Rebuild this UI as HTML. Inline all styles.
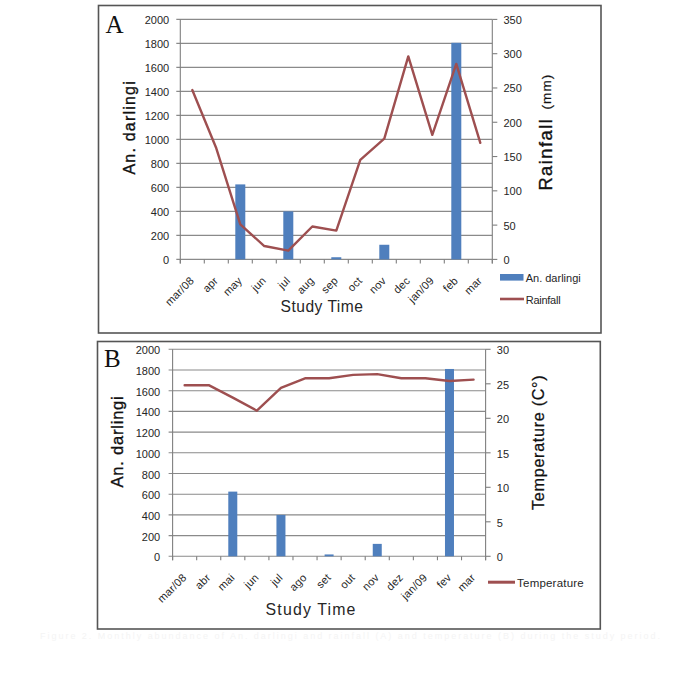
<!DOCTYPE html>
<html><head><meta charset="utf-8"><title>Chart</title>
<style>
html,body{margin:0;padding:0;background:#fff;}
body{width:685px;height:688px;overflow:hidden;}
svg{display:block;font-family:"Liberation Sans", sans-serif;}
</style></head><body>
<svg width="685" height="688" viewBox="0 0 685 688">
<rect x="0" y="0" width="685" height="688" fill="#fff"/>
<rect x="98.5" y="5.5" width="502.5" height="327.5" fill="#fff" stroke="#555555" stroke-width="1.6"/>
<line x1="176.3" y1="19.4" x2="492.3" y2="19.4" stroke="#8a8a8a" stroke-width="1.1"/>
<line x1="176.3" y1="43.4" x2="492.3" y2="43.4" stroke="#8a8a8a" stroke-width="1.1"/>
<line x1="176.3" y1="67.4" x2="492.3" y2="67.4" stroke="#8a8a8a" stroke-width="1.1"/>
<line x1="176.3" y1="91.4" x2="492.3" y2="91.4" stroke="#8a8a8a" stroke-width="1.1"/>
<line x1="176.3" y1="115.4" x2="492.3" y2="115.4" stroke="#8a8a8a" stroke-width="1.1"/>
<line x1="176.3" y1="139.4" x2="492.3" y2="139.4" stroke="#8a8a8a" stroke-width="1.1"/>
<line x1="176.3" y1="163.4" x2="492.3" y2="163.4" stroke="#8a8a8a" stroke-width="1.1"/>
<line x1="176.3" y1="187.4" x2="492.3" y2="187.4" stroke="#8a8a8a" stroke-width="1.1"/>
<line x1="176.3" y1="211.4" x2="492.3" y2="211.4" stroke="#8a8a8a" stroke-width="1.1"/>
<line x1="176.3" y1="235.4" x2="492.3" y2="235.4" stroke="#8a8a8a" stroke-width="1.1"/>
<line x1="176.3" y1="259.4" x2="492.3" y2="259.4" stroke="#8a8a8a" stroke-width="1.1"/>
<line x1="180.3" y1="19.4" x2="180.3" y2="263.4" stroke="#7f7f7f" stroke-width="1.1"/>
<line x1="492.3" y1="19.4" x2="492.3" y2="263.4" stroke="#7f7f7f" stroke-width="1.1"/>
<line x1="492.3" y1="19.4" x2="497.3" y2="19.4" stroke="#7f7f7f" stroke-width="1.1"/>
<line x1="492.3" y1="53.69" x2="497.3" y2="53.69" stroke="#7f7f7f" stroke-width="1.1"/>
<line x1="492.3" y1="87.97" x2="497.3" y2="87.97" stroke="#7f7f7f" stroke-width="1.1"/>
<line x1="492.3" y1="122.26" x2="497.3" y2="122.26" stroke="#7f7f7f" stroke-width="1.1"/>
<line x1="492.3" y1="156.54" x2="497.3" y2="156.54" stroke="#7f7f7f" stroke-width="1.1"/>
<line x1="492.3" y1="190.83" x2="497.3" y2="190.83" stroke="#7f7f7f" stroke-width="1.1"/>
<line x1="492.3" y1="225.11" x2="497.3" y2="225.11" stroke="#7f7f7f" stroke-width="1.1"/>
<line x1="492.3" y1="259.4" x2="497.3" y2="259.4" stroke="#7f7f7f" stroke-width="1.1"/>
<line x1="180.3" y1="259.4" x2="180.3" y2="263.4" stroke="#7f7f7f" stroke-width="1.1"/>
<line x1="204.3" y1="259.4" x2="204.3" y2="263.4" stroke="#7f7f7f" stroke-width="1.1"/>
<line x1="228.3" y1="259.4" x2="228.3" y2="263.4" stroke="#7f7f7f" stroke-width="1.1"/>
<line x1="252.3" y1="259.4" x2="252.3" y2="263.4" stroke="#7f7f7f" stroke-width="1.1"/>
<line x1="276.3" y1="259.4" x2="276.3" y2="263.4" stroke="#7f7f7f" stroke-width="1.1"/>
<line x1="300.3" y1="259.4" x2="300.3" y2="263.4" stroke="#7f7f7f" stroke-width="1.1"/>
<line x1="324.3" y1="259.4" x2="324.3" y2="263.4" stroke="#7f7f7f" stroke-width="1.1"/>
<line x1="348.3" y1="259.4" x2="348.3" y2="263.4" stroke="#7f7f7f" stroke-width="1.1"/>
<line x1="372.3" y1="259.4" x2="372.3" y2="263.4" stroke="#7f7f7f" stroke-width="1.1"/>
<line x1="396.3" y1="259.4" x2="396.3" y2="263.4" stroke="#7f7f7f" stroke-width="1.1"/>
<line x1="420.3" y1="259.4" x2="420.3" y2="263.4" stroke="#7f7f7f" stroke-width="1.1"/>
<line x1="444.3" y1="259.4" x2="444.3" y2="263.4" stroke="#7f7f7f" stroke-width="1.1"/>
<line x1="468.3" y1="259.4" x2="468.3" y2="263.4" stroke="#7f7f7f" stroke-width="1.1"/>
<line x1="492.3" y1="259.4" x2="492.3" y2="263.4" stroke="#7f7f7f" stroke-width="1.1"/>
<rect x="235.3" y="184.4" width="10" height="75" fill="#4f7fbd"/>
<rect x="283.3" y="211.4" width="10" height="48" fill="#4f7fbd"/>
<rect x="331.3" y="257.24" width="10" height="2.16" fill="#4f7fbd"/>
<rect x="379.3" y="244.76" width="10" height="14.64" fill="#4f7fbd"/>
<rect x="451.3" y="42.8" width="10" height="216.6" fill="#4f7fbd"/>
<polyline points="192.3,90.03 216.3,148.31 240.3,224.43 264.3,246.03 288.3,250.69 312.3,226.49 336.3,230.6 360.3,159.97 384.3,138.71 408.3,56.43 432.3,134.87 456.3,63.97 480.3,142.83" fill="none" stroke="#9e4f50" stroke-width="2.4" stroke-linejoin="round" stroke-linecap="round"/>
<text x="169.2" y="263.9" text-anchor="end" font-size="11" fill="#262626">0</text>
<text x="169.2" y="239.9" text-anchor="end" font-size="11" fill="#262626">200</text>
<text x="169.2" y="215.9" text-anchor="end" font-size="11" fill="#262626">400</text>
<text x="169.2" y="191.9" text-anchor="end" font-size="11" fill="#262626">600</text>
<text x="169.2" y="167.9" text-anchor="end" font-size="11" fill="#262626">800</text>
<text x="169.2" y="143.9" text-anchor="end" font-size="11" fill="#262626">1000</text>
<text x="169.2" y="119.9" text-anchor="end" font-size="11" fill="#262626">1200</text>
<text x="169.2" y="95.9" text-anchor="end" font-size="11" fill="#262626">1400</text>
<text x="169.2" y="71.9" text-anchor="end" font-size="11" fill="#262626">1600</text>
<text x="169.2" y="47.9" text-anchor="end" font-size="11" fill="#262626">1800</text>
<text x="169.2" y="23.9" text-anchor="end" font-size="11" fill="#262626">2000</text>
<text x="503.5" y="263.9" font-size="11" fill="#262626">0</text>
<text x="503.5" y="229.61" font-size="11" fill="#262626">50</text>
<text x="503.5" y="195.33" font-size="11" fill="#262626">100</text>
<text x="503.5" y="161.04" font-size="11" fill="#262626">150</text>
<text x="503.5" y="126.76" font-size="11" fill="#262626">200</text>
<text x="503.5" y="92.47" font-size="11" fill="#262626">250</text>
<text x="503.5" y="58.19" font-size="11" fill="#262626">300</text>
<text x="503.5" y="23.9" font-size="11" fill="#262626">350</text>
<text transform="translate(194.8,281.4) rotate(-45)" text-anchor="end" font-size="11" fill="#262626" letter-spacing="0.2">mar/08</text>
<text transform="translate(218.8,281.4) rotate(-45)" text-anchor="end" font-size="11" fill="#262626" letter-spacing="0.2">apr</text>
<text transform="translate(242.8,281.4) rotate(-45)" text-anchor="end" font-size="11" fill="#262626" letter-spacing="0.2">may</text>
<text transform="translate(266.8,281.4) rotate(-45)" text-anchor="end" font-size="11" fill="#262626" letter-spacing="0.2">jun</text>
<text transform="translate(290.8,281.4) rotate(-45)" text-anchor="end" font-size="11" fill="#262626" letter-spacing="0.2">jul</text>
<text transform="translate(314.8,281.4) rotate(-45)" text-anchor="end" font-size="11" fill="#262626" letter-spacing="0.2">aug</text>
<text transform="translate(338.8,281.4) rotate(-45)" text-anchor="end" font-size="11" fill="#262626" letter-spacing="0.2">sep</text>
<text transform="translate(362.8,281.4) rotate(-45)" text-anchor="end" font-size="11" fill="#262626" letter-spacing="0.2">oct</text>
<text transform="translate(386.8,281.4) rotate(-45)" text-anchor="end" font-size="11" fill="#262626" letter-spacing="0.2">nov</text>
<text transform="translate(410.8,281.4) rotate(-45)" text-anchor="end" font-size="11" fill="#262626" letter-spacing="0.2">dec</text>
<text transform="translate(434.8,281.4) rotate(-45)" text-anchor="end" font-size="11" fill="#262626" letter-spacing="0.2">jan/09</text>
<text transform="translate(458.8,281.4) rotate(-45)" text-anchor="end" font-size="11" fill="#262626" letter-spacing="0.2">feb</text>
<text transform="translate(482.8,281.4) rotate(-45)" text-anchor="end" font-size="11" fill="#262626" letter-spacing="0.2">mar</text>
<text x="280.5" y="312.2" font-size="15.6" fill="#262626" letter-spacing="0.5">Study Time</text>
<text transform="translate(134.6,174.5) rotate(-90)" font-size="16" fill="#111" stroke="#111" stroke-width="0.35" letter-spacing="1.2">An. darlingi</text>
<text transform="translate(551.8,190.6) rotate(-90)" font-size="18.3" fill="#111" stroke="#111" stroke-width="0.35" letter-spacing="1.5">Rainfall</text><text transform="translate(551,109.5) rotate(-90)" font-size="13.5" fill="#111" stroke="#111" stroke-width="0.2" letter-spacing="1.1">(mm)</text>
<text x="105.5" y="33.2" font-family='"Liberation Serif", serif' font-size="25" fill="#111">A</text>
<rect x="500" y="274" width="23.5" height="6.6" fill="#4f7fbd"/><text x="525.7" y="281.7" font-size="11" fill="#262626">An. darlingi</text><line x1="500" y1="299" x2="524" y2="299" stroke="#9e4f50" stroke-width="2.6"/><text x="525.7" y="303.7" font-size="11" fill="#262626" letter-spacing="-0.25">Rainfall</text>
<rect x="97.5" y="341.5" width="502.79999999999995" height="287.5" fill="#fff" stroke="#555555" stroke-width="1.6"/>
<line x1="168.6" y1="349.3" x2="485.6" y2="349.3" stroke="#8a8a8a" stroke-width="1.1"/>
<line x1="168.6" y1="370" x2="485.6" y2="370" stroke="#8a8a8a" stroke-width="1.1"/>
<line x1="168.6" y1="390.7" x2="485.6" y2="390.7" stroke="#8a8a8a" stroke-width="1.1"/>
<line x1="168.6" y1="411.4" x2="485.6" y2="411.4" stroke="#8a8a8a" stroke-width="1.1"/>
<line x1="168.6" y1="432.1" x2="485.6" y2="432.1" stroke="#8a8a8a" stroke-width="1.1"/>
<line x1="168.6" y1="452.8" x2="485.6" y2="452.8" stroke="#8a8a8a" stroke-width="1.1"/>
<line x1="168.6" y1="473.5" x2="485.6" y2="473.5" stroke="#8a8a8a" stroke-width="1.1"/>
<line x1="168.6" y1="494.2" x2="485.6" y2="494.2" stroke="#8a8a8a" stroke-width="1.1"/>
<line x1="168.6" y1="514.9" x2="485.6" y2="514.9" stroke="#8a8a8a" stroke-width="1.1"/>
<line x1="168.6" y1="535.6" x2="485.6" y2="535.6" stroke="#8a8a8a" stroke-width="1.1"/>
<line x1="168.6" y1="556.3" x2="485.6" y2="556.3" stroke="#8a8a8a" stroke-width="1.1"/>
<line x1="172.6" y1="349.3" x2="172.6" y2="560.3" stroke="#7f7f7f" stroke-width="1.1"/>
<line x1="485.6" y1="349.3" x2="485.6" y2="560.3" stroke="#7f7f7f" stroke-width="1.1"/>
<line x1="485.6" y1="349.3" x2="490.6" y2="349.3" stroke="#7f7f7f" stroke-width="1.1"/>
<line x1="485.6" y1="383.8" x2="490.6" y2="383.8" stroke="#7f7f7f" stroke-width="1.1"/>
<line x1="485.6" y1="418.3" x2="490.6" y2="418.3" stroke="#7f7f7f" stroke-width="1.1"/>
<line x1="485.6" y1="452.8" x2="490.6" y2="452.8" stroke="#7f7f7f" stroke-width="1.1"/>
<line x1="485.6" y1="487.3" x2="490.6" y2="487.3" stroke="#7f7f7f" stroke-width="1.1"/>
<line x1="485.6" y1="521.8" x2="490.6" y2="521.8" stroke="#7f7f7f" stroke-width="1.1"/>
<line x1="485.6" y1="556.3" x2="490.6" y2="556.3" stroke="#7f7f7f" stroke-width="1.1"/>
<line x1="172.6" y1="556.3" x2="172.6" y2="560.3" stroke="#7f7f7f" stroke-width="1.1"/>
<line x1="196.68" y1="556.3" x2="196.68" y2="560.3" stroke="#7f7f7f" stroke-width="1.1"/>
<line x1="220.75" y1="556.3" x2="220.75" y2="560.3" stroke="#7f7f7f" stroke-width="1.1"/>
<line x1="244.83" y1="556.3" x2="244.83" y2="560.3" stroke="#7f7f7f" stroke-width="1.1"/>
<line x1="268.91" y1="556.3" x2="268.91" y2="560.3" stroke="#7f7f7f" stroke-width="1.1"/>
<line x1="292.98" y1="556.3" x2="292.98" y2="560.3" stroke="#7f7f7f" stroke-width="1.1"/>
<line x1="317.06" y1="556.3" x2="317.06" y2="560.3" stroke="#7f7f7f" stroke-width="1.1"/>
<line x1="341.14" y1="556.3" x2="341.14" y2="560.3" stroke="#7f7f7f" stroke-width="1.1"/>
<line x1="365.22" y1="556.3" x2="365.22" y2="560.3" stroke="#7f7f7f" stroke-width="1.1"/>
<line x1="389.29" y1="556.3" x2="389.29" y2="560.3" stroke="#7f7f7f" stroke-width="1.1"/>
<line x1="413.37" y1="556.3" x2="413.37" y2="560.3" stroke="#7f7f7f" stroke-width="1.1"/>
<line x1="437.45" y1="556.3" x2="437.45" y2="560.3" stroke="#7f7f7f" stroke-width="1.1"/>
<line x1="461.52" y1="556.3" x2="461.52" y2="560.3" stroke="#7f7f7f" stroke-width="1.1"/>
<line x1="485.6" y1="556.3" x2="485.6" y2="560.3" stroke="#7f7f7f" stroke-width="1.1"/>
<rect x="228.29" y="491.61" width="9" height="64.69" fill="#4f7fbd"/>
<rect x="276.45" y="514.9" width="9" height="41.4" fill="#4f7fbd"/>
<rect x="324.6" y="554.44" width="9" height="1.86" fill="#4f7fbd"/>
<rect x="372.75" y="543.88" width="9" height="12.42" fill="#4f7fbd"/>
<rect x="444.98" y="368.97" width="9" height="187.33" fill="#4f7fbd"/>
<polyline points="184.64,385.18 208.72,385.18 232.79,397.6 256.87,410.71 280.95,387.94 305.02,378.28 329.1,378.28 353.18,374.83 377.25,374.14 401.33,378.28 425.41,378.28 449.48,381.04 473.56,379.66" fill="none" stroke="#9e4f50" stroke-width="2.4" stroke-linejoin="round" stroke-linecap="round"/>
<text x="160.2" y="561.3" text-anchor="end" font-size="11" fill="#262626">0</text>
<text x="160.2" y="540.6" text-anchor="end" font-size="11" fill="#262626">200</text>
<text x="160.2" y="519.9" text-anchor="end" font-size="11" fill="#262626">400</text>
<text x="160.2" y="499.2" text-anchor="end" font-size="11" fill="#262626">600</text>
<text x="160.2" y="478.5" text-anchor="end" font-size="11" fill="#262626">800</text>
<text x="160.2" y="457.8" text-anchor="end" font-size="11" fill="#262626">1000</text>
<text x="160.2" y="437.1" text-anchor="end" font-size="11" fill="#262626">1200</text>
<text x="160.2" y="416.4" text-anchor="end" font-size="11" fill="#262626">1400</text>
<text x="160.2" y="395.7" text-anchor="end" font-size="11" fill="#262626">1600</text>
<text x="160.2" y="375" text-anchor="end" font-size="11" fill="#262626">1800</text>
<text x="160.2" y="354.3" text-anchor="end" font-size="11" fill="#262626">2000</text>
<text x="496.8" y="561.3" font-size="11" fill="#262626">0</text>
<text x="496.8" y="526.8" font-size="11" fill="#262626">5</text>
<text x="496.8" y="492.3" font-size="11" fill="#262626">10</text>
<text x="496.8" y="457.8" font-size="11" fill="#262626">15</text>
<text x="496.8" y="423.3" font-size="11" fill="#262626">20</text>
<text x="496.8" y="388.8" font-size="11" fill="#262626">25</text>
<text x="496.8" y="354.3" font-size="11" fill="#262626">30</text>
<text transform="translate(187.14,578.3) rotate(-45)" text-anchor="end" font-size="11" fill="#262626" letter-spacing="0.2">mar/08</text>
<text transform="translate(211.22,578.3) rotate(-45)" text-anchor="end" font-size="11" fill="#262626" letter-spacing="0.2">abr</text>
<text transform="translate(235.29,578.3) rotate(-45)" text-anchor="end" font-size="11" fill="#262626" letter-spacing="0.2">mai</text>
<text transform="translate(259.37,578.3) rotate(-45)" text-anchor="end" font-size="11" fill="#262626" letter-spacing="0.2">jun</text>
<text transform="translate(283.45,578.3) rotate(-45)" text-anchor="end" font-size="11" fill="#262626" letter-spacing="0.2">jul</text>
<text transform="translate(307.52,578.3) rotate(-45)" text-anchor="end" font-size="11" fill="#262626" letter-spacing="0.2">ago</text>
<text transform="translate(331.6,578.3) rotate(-45)" text-anchor="end" font-size="11" fill="#262626" letter-spacing="0.2">set</text>
<text transform="translate(355.68,578.3) rotate(-45)" text-anchor="end" font-size="11" fill="#262626" letter-spacing="0.2">out</text>
<text transform="translate(379.75,578.3) rotate(-45)" text-anchor="end" font-size="11" fill="#262626" letter-spacing="0.2">nov</text>
<text transform="translate(403.83,578.3) rotate(-45)" text-anchor="end" font-size="11" fill="#262626" letter-spacing="0.2">dez</text>
<text transform="translate(427.91,578.3) rotate(-45)" text-anchor="end" font-size="11" fill="#262626" letter-spacing="0.2">jan/09</text>
<text transform="translate(451.98,578.3) rotate(-45)" text-anchor="end" font-size="11" fill="#262626" letter-spacing="0.2">fev</text>
<text transform="translate(476.06,578.3) rotate(-45)" text-anchor="end" font-size="11" fill="#262626" letter-spacing="0.2">mar</text>
<text x="265.6" y="614.5" font-size="15.9" fill="#262626" letter-spacing="1.15">Study Time</text>
<text transform="translate(123.2,487.6) rotate(-90)" font-size="16.5" fill="#111" stroke="#111" stroke-width="0.35" letter-spacing="0.8">An. darlingi</text>
<text transform="translate(544,509.9) rotate(-90)" font-size="16.2" fill="#111" stroke="#111" stroke-width="0.25" letter-spacing="0.68">Temperature (C°)</text>
<text x="104" y="366.9" font-family='"Liberation Serif", serif' font-size="25" fill="#111">B</text>
<line x1="488" y1="582.2" x2="515" y2="582.2" stroke="#9e4f50" stroke-width="3"/><text x="517.1" y="587.2" font-size="11.5" fill="#262626" letter-spacing="0.2">Temperature</text>
<text x="40" y="639" font-size="9" fill="#f4f4f4" textLength="620" lengthAdjust="spacing">Figure 2. Monthly abundance of An. darlingi and rainfall (A) and temperature (B) during the study period.</text>
</svg>
</body></html>
